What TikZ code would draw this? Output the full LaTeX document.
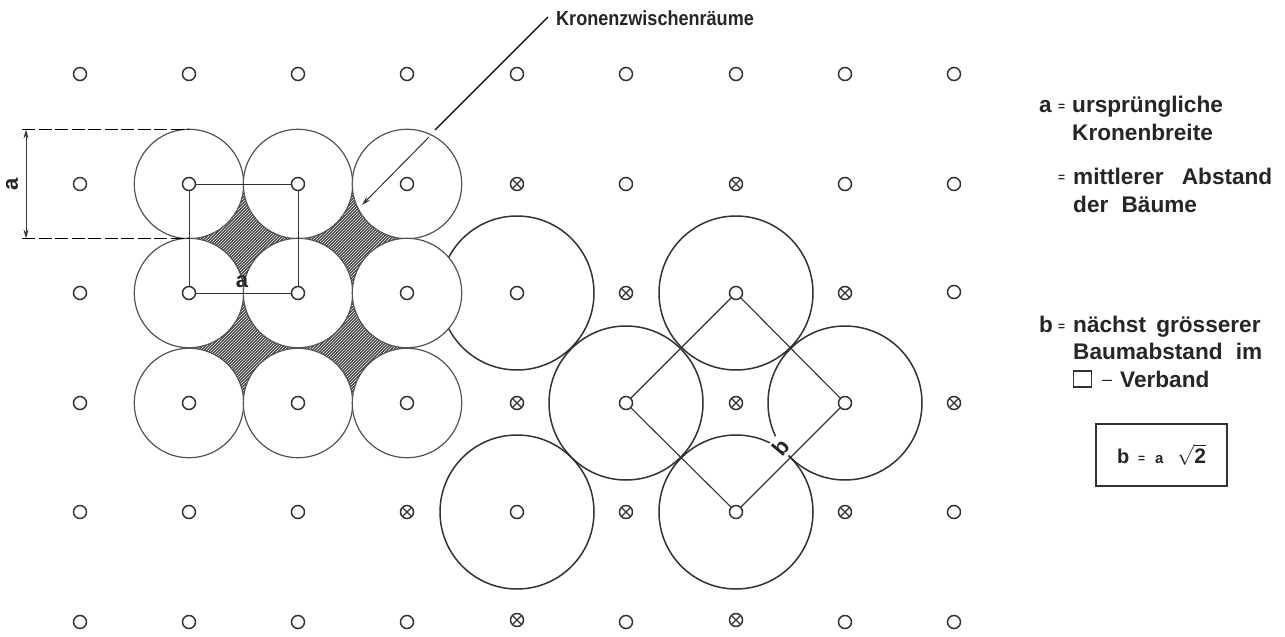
\documentclass[tikz,border=0pt]{standalone}
\usepackage{fontspec}
\setmainfont{Liberation Sans}
\usetikzlibrary{arrows.meta}
\definecolor{ink}{gray}{0.2}
\definecolor{thin}{gray}{0.33}
\tikzset{
  x=1pt,y=-1pt,
  post/.style={circle,draw=ink,line width=1.5pt,fill=white,minimum size=13pt,inner sep=0pt},
  crossed/.style={post,path picture={
    \draw[ink,line width=1.2pt] (path picture bounding box.north west)--(path picture bounding box.south east)
      (path picture bounding box.north east)--(path picture bounding box.south west);}},
  crown/.style={circle,draw=thin,line width=1.2pt,fill=white,minimum size=109.5pt,inner sep=0pt},
  bigcrown/.style={circle,draw=ink,line width=1.5pt,minimum size=154pt,inner sep=0pt},
  link/.style={draw=ink,line width=1.1pt},
  lab/.style={font=\fontsize{22.6}{26}\selectfont\bfseries,text=black!85,inner sep=0pt,anchor=base west},
  toplab/.style={lab,font=\fontsize{20.4}{24}\selectfont\bfseries},
  small/.style={lab,font=\fontsize{12}{14}\selectfont\bfseries},
  sym/.style={font=\fontsize{22}{26}\selectfont\bfseries,text=black!85,inner sep=0pt},
  tip/.style={-{Stealth[length=9pt,width=5pt]}},
}
\begin{document}
\begin{tikzpicture}
\useasboundingbox (0,0) rectangle (1285,637);
\fill[white] (0,0) rectangle (1285,637);
% hatched gaps
\fill[black!74] (189,184) rectangle (407,403);
\begin{scope}
\clip (189,184) rectangle (407,403);
\foreach \k in {370,373,...,815}
  \draw[white,line width=.6pt] (0,\k) -- (700,\k-700);
\end{scope}
% large crowns
\foreach \n/\x/\y in {B1/517/293,B2/626/403,B3/736/293,B4/845/403,B5/736/512,B6/517/512}
  \node[bigcrown] (\n) at (\x,\y) {};
% small crowns
\foreach \n/\x/\y in {C11/189/184,C12/298/184,C13/407/184,C21/189/293,C22/298/293,C23/407/293,C31/189/403,C32/298/403,C33/407/403}
  \node[crown] (\n) at (\x,\y) {};
% label b: white patch breaks the two arcs behind it
\node[sym,rotate=50,fill=white,inner sep=3pt] (lb) at (781,447) {b};
% connecting squares
\coordinate (s1) at (189.5,184.5); \coordinate (s2) at (298.5,184.5); \coordinate (s3) at (298.5,293.5); \coordinate (s4) at (189.5,293.5);
\coordinate (r1) at (626,403); \coordinate (r2) at (736,293); \coordinate (r3) at (845,403); \coordinate (r4) at (736,512);
\draw[link] (s1)--(s2)--(s3)--(s4)--cycle;
\draw[link] (r1)--(r2)--(r3)--(r4)--cycle;
% grid
\foreach \n/\x/\y in {
 a1/80/74,a2/189/74,a3/298/74,a4/407/74,a5/517/74,a6/626/74,a7/736/74,a8/845/74,a9/954/74,
 b1/80/184,b2/189/184,b3/298/184,b4/407/184,b6/626/184,b8/845/184,b9/954/184,
 c1/80/293,c2/189/293,c3/298/293,c4/407/293,c5/517/293,c7/736/293,c9/954/292,
 d1/80/403,d2/189/403,d3/298/403,d4/407/403,d6/626/403,d8/845/403,
 e1/80/512,e2/189/512,e3/298/512,e5/517/512,e7/736/512,e9/954/512,
 f1/80/622,f2/189/622,f3/298/622,f4/407/622,f6/626/622,f8/845/622,f9/954/622}
  \node[post] (\n) at (\x,\y) {};
\foreach \n/\x/\y in {
 b5/517/184,b7/736/184,c6/626/293,c8/845/293,d5/517/403,d7/736/403,d9/954/403,
 e4/407/512,e6/626/512,e8/845/512,f5/517/620,f7/736/620}
  \node[crossed] (\n) at (\x,\y) {};
% labels on the figure
\node[sym] (la) at (242,282) {a};
% dimension
\coordinate (dt) at (22,129.5); \coordinate (dte) at (189,129.5);
\coordinate (db) at (22,238.5); \coordinate (dbe) at (189,238.5);
\coordinate (at) at (26,129.5); \coordinate (ab) at (26,238.5);
\draw[thin,line width=1.1pt,dash pattern=on 13pt off 3.5pt] (dt)--(dte) (db)--(dbe);
\draw[ink,line width=.9pt,{Stealth[length=9pt,width=5pt]}-{Stealth[length=9pt,width=5pt]}] (at)--(ab);
\node[sym,rotate=90] (ra) at (12,184) {a};
% leader
\node[toplab] (kz) at (556,25) {\scalebox{.885}[1]{Kronenzwischenräume}};
\coordinate (k0) at (548,17); \coordinate (k1) at (435,130);
\coordinate (k2) at (429,137); \coordinate (k3) at (362,205);
\draw[thin,line width=1.1pt] (k0)--(k1);
\draw[ink,line width=1pt,tip] (k2)--(k3);
% legend
\node[lab] (l1a) at (1039,112) {a};
\node[small] (l1e) at (1058,110) {=};
\node[lab] (l1) at (1072,112) {ursprüngliche};
\node[lab] (l2) at (1072,140) {Kronenbreite};
\node[small] (l3e) at (1058,181) {=};
\node[lab] (l3) at (1073,184) {mittlerer\hspace{12pt} Abstand};
\node[lab] (l4) at (1073,212) {der\hspace{7pt} Bäume};
\node[lab] (l5a) at (1039,332) {b};
\node[small] (l5e) at (1058,330) {=};
\node[lab] (l5) at (1073,332) {nächst\hspace{4pt} grösserer};
\node[lab] (l6) at (1073,359) {Baumabstand\hspace{7pt} im};
\node[draw=ink,line width=1.1pt,minimum width=18pt,minimum height=16pt,inner sep=0pt] (sq) at (1082.5,379) {};
\node[lab,font=\fontsize{18}{22}\selectfont] (l7d) at (1102,385) {–};
\node[lab] (l7) at (1120,387) {Verband};
\node[draw=ink,line width=1.3pt,minimum width=131pt,minimum height=62pt,inner sep=0pt] (box) at (1161.5,455) {};
\node[lab,font=\fontsize{20}{24}\selectfont\bfseries] (f1) at (1117,463) {b};
\node[small] (f2) at (1138,462) {=};
\node[lab,font=\fontsize{15}{18}\selectfont\bfseries] (f3) at (1155,463) {a};
\node[lab,font=\fontsize{21}{24}\selectfont\bfseries] (f4) at (1177,463) {$\sqrt{\mbox{2}}$};
\end{tikzpicture}
\end{document}
